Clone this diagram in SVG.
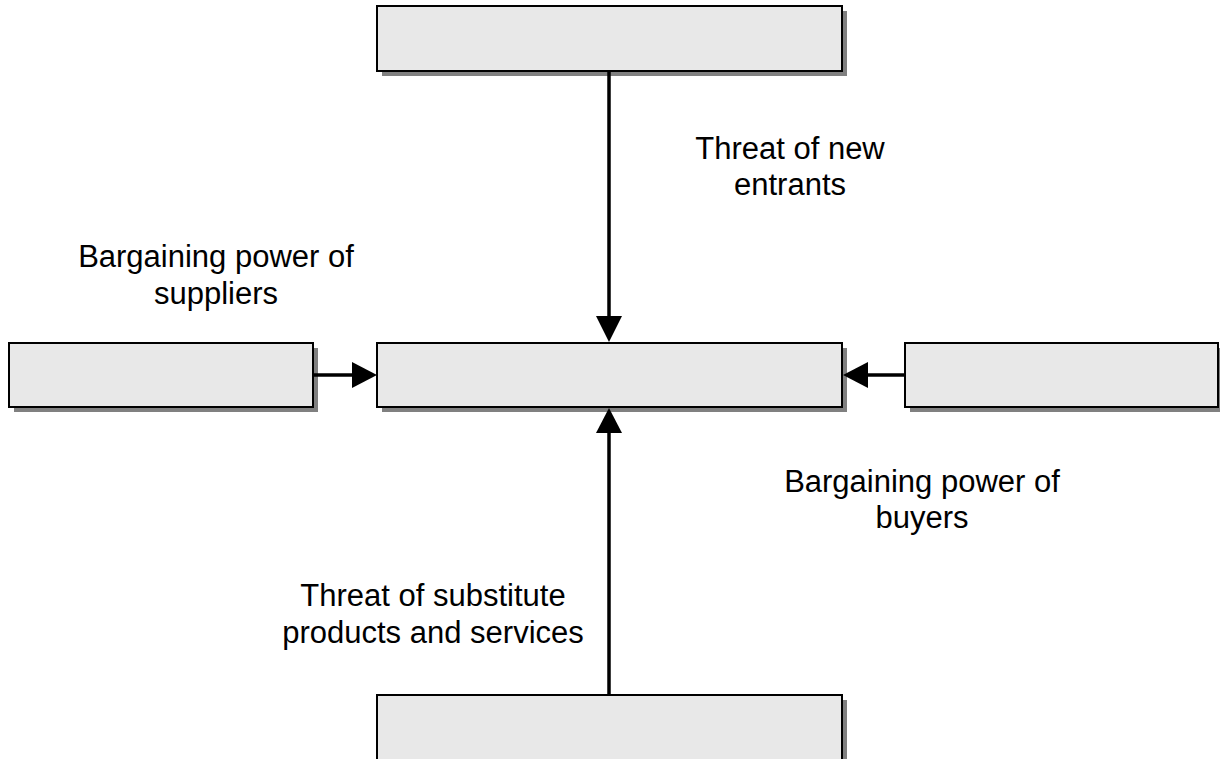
<svg xmlns="http://www.w3.org/2000/svg" width="1220" height="759" viewBox="0 0 1220 759">
<style>
.shadow{fill:#808080;stroke:none}
.box{fill:#e8e8e8;stroke:#000;stroke-width:2}
.conn{stroke:#000;stroke-width:3.5;fill:none}
.head{fill:#000;stroke:none}
.lbl{font-family:"Liberation Sans",Arial,sans-serif;font-size:31px;fill:#000;text-anchor:middle}
</style>
<rect width="1220" height="759" fill="#fff"/>
<g id="node-top">
<rect class="shadow" x="382" y="11" width="465" height="65"/>
<rect class="box" x="377" y="6" width="465" height="65"/>
</g>
<g id="node-center">
<rect class="shadow" x="382" y="348" width="465" height="64"/>
<rect class="box" x="377" y="343" width="465" height="64"/>
</g>
<g id="node-left">
<rect class="shadow" x="14" y="348" width="304" height="64"/>
<rect class="box" x="9" y="343" width="304" height="64"/>
</g>
<g id="node-right">
<rect class="shadow" x="910" y="348" width="314" height="64"/>
<rect class="box" x="905" y="343" width="313" height="64"/>
</g>
<g id="node-bottom">
<rect class="shadow" x="382" y="700" width="465" height="70"/>
<rect class="box" x="377" y="695" width="465" height="70"/>
</g>
<g id="connectors">
<line class="conn" x1="609" y1="71" x2="609" y2="318"/>
<polygon class="head" points="596,316 622,316 609,342"/>
<line class="conn" x1="313" y1="375" x2="354" y2="375"/>
<polygon class="head" points="352,362 352,388 377,375"/>
<line class="conn" x1="905" y1="375" x2="866" y2="375"/>
<polygon class="head" points="868,362 868,388 843,375"/>
<line class="conn" x1="609" y1="695" x2="609" y2="431"/>
<polygon class="head" points="596,433 622,433 609,408"/>
</g>
<g id="labels">
<text class="lbl" x="790" y="159">Threat of new</text>
<text class="lbl" x="790" y="195">entrants</text>
<text class="lbl" x="216" y="267">Bargaining power of</text>
<text class="lbl" x="216" y="304">suppliers</text>
<text class="lbl" x="922" y="492">Bargaining power of</text>
<text class="lbl" x="922" y="528">buyers</text>
<text class="lbl" x="433" y="606">Threat of substitute</text>
<text class="lbl" x="433" y="643">products and services</text>
</g>
</svg>
